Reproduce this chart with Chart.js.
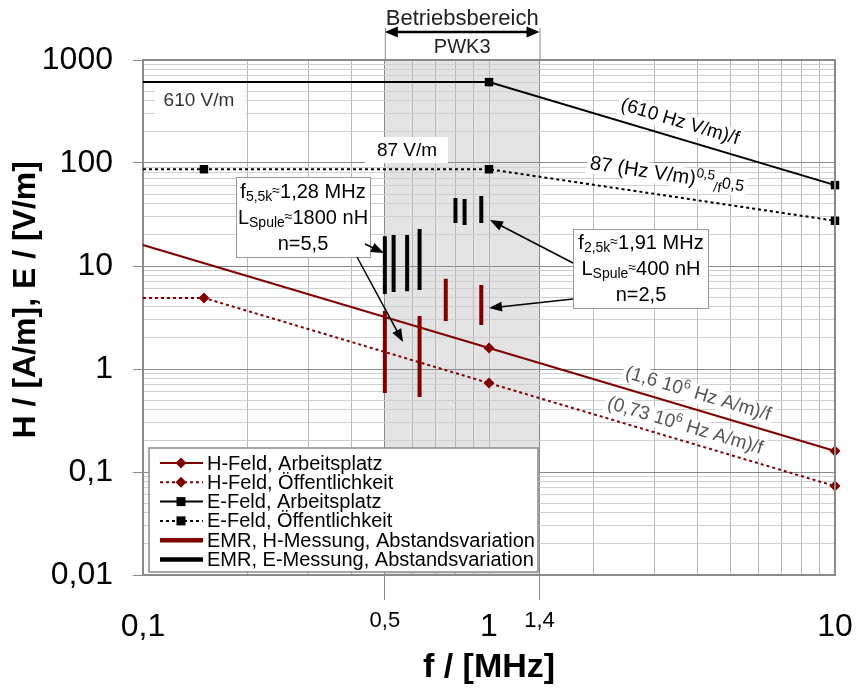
<!DOCTYPE html>
<html><head><meta charset="utf-8">
<script src="https://cdn.jsdelivr.net/npm/chart.js@4/dist/chart.umd.min.js"></script>
<style>html,body{margin:0;padding:0;background:#fff}#wrap{width:856px;height:690px}</style>
</head><body><div id="wrap"><canvas id="c" width="856" height="690"></canvas></div>
<script>
const FONT = '"Liberation Sans", Arial, sans-serif';

// ---- axes / ticks ----
const xTickValues = [0.1, 0.5, 1, 1.4, 10];
const xTickLabels = ['0,1', '0,5', '1', '1,4', '10'];
const xMinorGrid = [0.2, 0.3, 0.4, 0.6, 0.7, 0.8, 0.9, 2, 3, 4, 5, 6, 7, 8, 9];
const yTickValues = [0.01, 0.1, 1, 10, 100, 1000];
const yTickLabels = ['0,01', '0,1', '1', '10', '100', '1000'];
const yMinorGrid = [];
[0.01, 0.1, 1, 10, 100].forEach(d => { for (let k = 2; k <= 9; k++) yMinorGrid.push(+(d * k).toPrecision(3)); });
const bandRange = [0.5, 1.4];

// ---- series ----
const hArbeitF = [0.1, 1, 10];        const hArbeitV = [16, 1.6, 0.16];
const hOeffF   = [0.1, 0.15, 1, 10];  const hOeffV   = [4.9, 4.9, 0.73, 0.073];
const eArbeitF = [0.1, 1, 10];        const eArbeitV = [610, 610, 61];
const eOeffF   = [0.1, 0.15, 1, 10];  const eOeffV   = [87, 87, 87, 27.5];

// EMR measurements: vertical ranges (max / min) per frequency
const emrHF   = [0.5, 0.63, 0.75, 0.95];
const emrHMax = [3.66, 3.27, 7.5, 6.55];
const emrHMin = [0.585, 0.535, 2.92, 2.67];
const emrEF   = [0.5, 0.53, 0.58, 0.63, 0.8, 0.85, 0.95];
const emrEMax = [19.5, 20, 20, 22.9, 45.7, 44.7, 47.9];
const emrEMin = [5.35, 5.6, 5.7, 5.85, 26.1, 25, 26.1];

const seriesLabels = ['H-Feld, Arbeitsplatz', 'H-Feld, Öffentlichkeit', 'E-Feld, Arbeitsplatz',
  'E-Feld, Öffentlichkeit', 'EMR, H-Messung, Abstandsvariation', 'EMR, E-Messung, Abstandsvariation'];

const RED = '#800000';
const pts = (fs, vs) => fs.map((f, i) => ({ x: f, y: vs[i] }));
function ranges(fs, maxs, mins) {
  const d = [];
  fs.forEach((f, i) => { d.push({ x: f, y: maxs[i] }, { x: f, y: mins[i] }, { x: f, y: null }); });
  return d;
}
const markerR = r => (ctx => (ctx.raw && ctx.raw.x === 0.1) ? 0 : r);

const datasets = [
  { label: seriesLabels[0], data: pts(hArbeitF, hArbeitV), borderColor: RED, backgroundColor: RED, borderWidth: 2,
    pointStyle: 'rectRot', pointRadius: markerR(5.5), pointBorderWidth: 0, clip: false },
  { label: seriesLabels[1], data: pts(hOeffF, hOeffV), borderColor: RED, backgroundColor: RED, borderWidth: 2, borderDash: [3, 3],
    pointStyle: 'rectRot', pointRadius: markerR(5.5), pointBorderWidth: 0, clip: false },
  { label: seriesLabels[2], data: pts(eArbeitF, eArbeitV), borderColor: '#000', backgroundColor: '#000', borderWidth: 2,
    pointStyle: 'rect', pointRadius: markerR(6), pointBorderWidth: 0, clip: false },
  { label: seriesLabels[3], data: pts(eOeffF, eOeffV), borderColor: '#000', backgroundColor: '#000', borderWidth: 2, borderDash: [3, 3],
    pointStyle: 'rect', pointRadius: markerR(6), pointBorderWidth: 0, clip: false },
  { label: seriesLabels[4], data: ranges(emrHF, emrHMax, emrHMin), borderColor: RED, borderWidth: 4, pointRadius: 0, spanGaps: false },
  { label: seriesLabels[5], data: ranges(emrEF, emrEMax, emrEMin), borderColor: '#000', borderWidth: 4, pointRadius: 0, spanGaps: false },
];

// ---- annotation layout (pixels) ----
const lineLabels = [
  { segs: [['(610 Hz V/m)/f', 'n']], at: [680, 122], along: [[1, 610], [10, 61]], color: '#000', size: 19 },
  { segs: [['87 (Hz V/m)', 'n'], ['0,5', 'sup'], ['/f', 'sub'], ['0,5', 'mid']], at: [667, 175], along: [[1, 87], [10, 27.5]], color: '#000', size: 20 },
  { segs: [['(1,6 10', 'n'], ['6', 'sup'], [' Hz A/m)/f', 'n']], at: [698, 394], along: [[1, 1.6], [10, 0.16]], color: '#555', size: 19 },
  { segs: [['(0,73 10', 'n'], ['6', 'sup'], [' Hz A/m)/f', 'n']], at: [685, 426], along: [[1, 0.73], [10, 0.073]], color: '#555', size: 19 },
];
const boxLabels = [
  { segs: [['610 V/m', 'n']], at: [199, 101], box: [155, 86, 90, 30], color: '#333' },
  { segs: [['87 V/m', 'n']], at: [407, 151], box: [365, 137, 83, 26], color: '#000' },
];
const callouts = [
  { box: [236, 177, 134, 80], cx: 303, lines: [
      [['f', 'n'], ['5,5k', 'sub'], ['≈', 'sm'], ['1,28 MHz', 'n']],
      [['L', 'n'], ['Spule', 'sub'], ['≈', 'sm'], ['1800 nH', 'n']],
      [['n=5,5', 'n']]], ys: [192, 218, 244],
    arrows: [[365, 244, 384, 253], [357, 257, 403, 342]] },
  { box: [573, 229, 135, 79], cx: 641, lines: [
      [['f', 'n'], ['2,5k', 'sub'], ['≈', 'sm'], ['1,91 MHz', 'n']],
      [['L', 'n'], ['Spule', 'sub'], ['≈', 'sm'], ['400 nH', 'n']],
      [['n=2,5', 'n']]], ys: [243, 269, 295],
    arrows: [[573, 263, 490, 220], [573, 299, 489, 308]] },
];

const STY = { n: { s: 1, dy: 0 }, sub: { s: 0.7, dy: 0.28 }, sup: { s: 0.68, dy: -0.3 }, sm: { s: 0.7, dy: -0.05 }, mid: { s: 0.8, dy: 0.02 } };
function measureRich(ctx, segs, size) {
  let w = 0;
  const parts = segs.map(([t, k]) => { const st = STY[k]; const fs = size * st.s; ctx.font = fs + 'px ' + FONT;
    const m = ctx.measureText(t).width; w += m; return { t, fs, dy: st.dy * size, m }; });
  return { w, parts };
}
function drawRich(ctx, segs, x, y, size, color) {
  const { w, parts } = measureRich(ctx, segs, size);
  let cx = x - w / 2;
  ctx.fillStyle = color; ctx.textBaseline = 'middle'; ctx.textAlign = 'left';
  for (const p of parts) { ctx.font = p.fs + 'px ' + FONT; ctx.fillText(p.t, cx, y + p.dy); cx += p.m; }
  return w;
}
function arrow(ctx, x0, y0, x1, y1, len, half) {
  const a = Math.atan2(y1 - y0, x1 - x0);
  ctx.beginPath(); ctx.moveTo(x0, y0); ctx.lineTo(x1 - Math.cos(a) * len * 0.8, y1 - Math.sin(a) * len * 0.8); ctx.stroke();
  ctx.beginPath(); ctx.moveTo(x1, y1);
  ctx.lineTo(x1 - Math.cos(a) * len - Math.sin(a) * half, y1 - Math.sin(a) * len + Math.cos(a) * half);
  ctx.lineTo(x1 - Math.cos(a) * len + Math.sin(a) * half, y1 - Math.sin(a) * len - Math.cos(a) * half);
  ctx.closePath(); ctx.fill();
}

const deco = {
  id: 'deco',
  beforeDraw(chart) {
    const { ctx, chartArea: a, scales: { x } } = chart;
    const x0 = x.getPixelForValue(bandRange[0]), x1 = x.getPixelForValue(bandRange[1]);
    ctx.save(); ctx.fillStyle = '#e3e3e3'; ctx.fillRect(x0, a.top, x1 - x0, a.bottom - a.top); ctx.restore();
  },
  beforeDatasetsDraw(chart) {
    const { ctx, scales: { x, y } } = chart;
    ctx.save();
    for (const b of boxLabels) {
      ctx.fillStyle = '#fff'; ctx.fillRect(b.box[0], b.box[1], b.box[2], b.box[3]);
      drawRich(ctx, b.segs, b.at[0], b.at[1], 19, b.color);
    }
    for (const L of lineLabels) {
      const p0 = [x.getPixelForValue(L.along[0][0]), y.getPixelForValue(L.along[0][1])];
      const p1 = [x.getPixelForValue(L.along[1][0]), y.getPixelForValue(L.along[1][1])];
      const ang = Math.atan2(p1[1] - p0[1], p1[0] - p0[0]);
      ctx.save(); ctx.translate(L.at[0], L.at[1]); ctx.rotate(ang);
      const { w } = measureRich(ctx, L.segs, L.size);
      ctx.fillStyle = '#fff'; ctx.fillRect(-w / 2 - 3, -10, w + 6, 20);
      drawRich(ctx, L.segs, 0, 0, L.size, L.color);
      ctx.restore();
    }
    ctx.restore();
  },
  afterDatasetsDraw(chart) {
    const { ctx } = chart;
    ctx.save();
    for (const c of callouts) {
      ctx.fillStyle = '#fff'; ctx.fillRect(c.box[0], c.box[1], c.box[2], c.box[3]);
      ctx.strokeStyle = '#9a9a9a'; ctx.lineWidth = 1; ctx.strokeRect(c.box[0] + 0.5, c.box[1] + 0.5, c.box[2], c.box[3]);
      c.lines.forEach((ln, i) => drawRich(ctx, ln, c.cx, c.ys[i], 20, '#000'));
      ctx.strokeStyle = '#000'; ctx.fillStyle = '#000'; ctx.lineWidth = 1.5;
      for (const ar of c.arrows) arrow(ctx, ar[0], ar[1], ar[2], ar[3], 13, 5);
    }
    ctx.restore();
  },
  afterDraw(chart) {
    const { ctx, chartArea: a, scales: { x } } = chart;
    ctx.save();
    // frame
    ctx.strokeStyle = '#8a8a8a'; ctx.lineWidth = 2;
    ctx.beginPath(); ctx.moveTo(a.left, a.top); ctx.lineTo(a.right, a.top); ctx.lineTo(a.right, a.bottom); ctx.stroke();
    // operating range marker above plot
    const x0 = x.getPixelForValue(bandRange[0]), x1 = x.getPixelForValue(bandRange[1]);
    ctx.strokeStyle = '#8a8a8a'; ctx.lineWidth = 1;
    ctx.beginPath(); ctx.moveTo(x0 + 0.5, 28); ctx.lineTo(x0 + 0.5, a.top); ctx.moveTo(x1 + 0.5, 28); ctx.lineTo(x1 + 0.5, a.top); ctx.stroke();
    ctx.strokeStyle = '#000'; ctx.fillStyle = '#000'; ctx.lineWidth = 2.5;
    arrow(ctx, (x0 + x1) / 2, 32, x1, 32, 13, 5.5);
    arrow(ctx, (x0 + x1) / 2, 32, x0, 32, 13, 5.5);
    ctx.textAlign = 'center'; ctx.textBaseline = 'middle'; ctx.fillStyle = '#222';
    ctx.font = '22px ' + FONT; ctx.fillText('Betriebsbereich', (x0 + x1) / 2, 19);
    ctx.font = '20px ' + FONT; ctx.fillText('PWK3', (x0 + x1) / 2, 47);
    // legend
    const L = { x: 149, y: 448, w: 389, h: 124 };
    ctx.fillStyle = '#fff'; ctx.fillRect(L.x, L.y, L.w, L.h);
    ctx.strokeStyle = '#8a8a8a'; ctx.lineWidth = 1.5; ctx.strokeRect(L.x, L.y, L.w, L.h);
    chart.data.datasets.forEach((ds, i) => {
      const yy = 463 + i * 19.3;
      ctx.save();
      ctx.strokeStyle = ds.borderColor; ctx.lineWidth = ds.borderWidth >= 4 ? 4.5 : 2;
      ctx.setLineDash(ds.borderDash || []);
      ctx.beginPath(); ctx.moveTo(160, yy); ctx.lineTo(203, yy); ctx.stroke();
      ctx.setLineDash([]);
      if (i < 4) {
        ctx.fillStyle = ds.borderColor;
        if (ds.pointStyle === 'rect') ctx.fillRect(181 - 4.5, yy - 4.5, 9, 9);
        else { ctx.beginPath(); ctx.moveTo(181, yy - 5.5); ctx.lineTo(186.5, yy); ctx.lineTo(181, yy + 5.5); ctx.lineTo(175.5, yy); ctx.closePath(); ctx.fill(); }
      }
      ctx.fillStyle = '#000'; ctx.font = '20px ' + FONT; ctx.textAlign = 'left'; ctx.textBaseline = 'middle';
      ctx.fillText(ds.label, 207, yy + 1);
      ctx.restore();
    });
    ctx.restore();
  }
};

const xAllTicks = [...xTickValues, ...xMinorGrid].sort((a, b) => a - b);
const yAllTicks = [...yTickValues, ...yMinorGrid].sort((a, b) => a - b);

new Chart(document.getElementById('c'), {
  type: 'line',
  data: { datasets },
  plugins: [deco],
  options: {
    responsive: false, animation: false, devicePixelRatio: 1,
    layout: { padding: { top: 60, right: 21, left: 0, bottom: 0 } },
    plugins: { legend: { display: false }, tooltip: { enabled: false } },
    elements: { line: { tension: 0 } },
    scales: {
      x: {
        type: 'logarithmic', min: 0.1, max: 10,
        afterBuildTicks(s) { s.ticks = xAllTicks.map(v => ({ value: v })); },
        afterFit(s) { s.height = 115; s.paddingRight = 0; s.paddingLeft = 0; },
        ticks: {
          autoSkip: false, maxRotation: 0, minRotation: 0, padding: 8, color: '#000',
          font: ctx => ({ family: FONT, size: (ctx.tick && (ctx.tick.value === 0.5 || ctx.tick.value === 1.4)) ? 22 : 32 }),
          callback: v => { const i = xTickValues.indexOf(v); return i >= 0 ? xTickLabels[i] : ''; }
        },
        grid: {
          tickLength: 25, lineWidth: 1,
          color: ctx => (ctx.tick && [0.5, 1.4].includes(ctx.tick.value)) ? '#8a8a8a' : '#b8b8b8',
          tickColor: ctx => (ctx.tick && [0.5, 1.4].includes(ctx.tick.value)) ? '#8a8a8a' : 'rgba(0,0,0,0)'
        },
        border: { display: true, color: '#8a8a8a', width: 2 },
        title: { display: true, text: 'f / [MHz]', color: '#000', font: { family: FONT, size: 34, weight: 'bold' }, padding: { top: 0, bottom: 2 } }
      },
      y: {
        type: 'logarithmic', min: 0.01, max: 1000,
        afterBuildTicks(s) { s.ticks = yAllTicks.map(v => ({ value: v })); },
        afterFit(s) { s.width = 143; },
        ticks: {
          autoSkip: false, padding: 20, color: '#000',
          font: { family: FONT, size: 32 },
          callback: v => { const i = yTickValues.indexOf(v); return i >= 0 ? yTickLabels[i] : ''; }
        },
        grid: {
          tickLength: 10, lineWidth: 1,
          color: ctx => (ctx.tick && yTickValues.includes(ctx.tick.value)) ? '#8a8a8a' : '#cfcfcf',
          tickColor: ctx => (ctx.tick && yTickValues.includes(ctx.tick.value)) ? '#8a8a8a' : 'rgba(0,0,0,0)'
        },
        border: { display: true, color: '#8a8a8a', width: 2 },
        title: { display: true, text: '\u00a0\u00a0\u00a0\u00a0H / [A/m], E / [V/m]', color: '#000', font: { family: FONT, size: 32, weight: 'bold' }, padding: { top: 7, bottom: 0 } }
      }
    }
  }
});
</script>
</body></html>
